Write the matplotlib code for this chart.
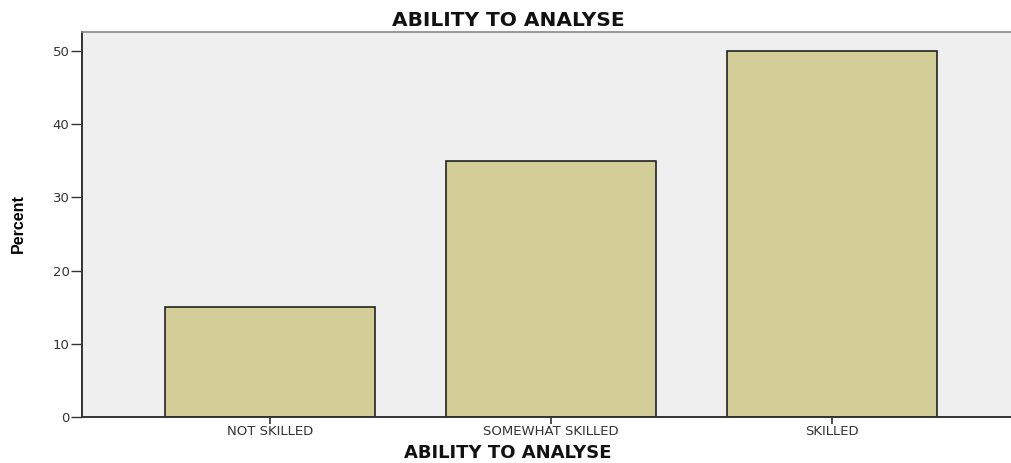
import matplotlib
matplotlib.use("Agg")
import matplotlib.pyplot as plt

# ── Daten ─────────────────────────────────────────────────────────────────────
categories = ["NOT SKILLED", "SOMEWHAT SKILLED", "SKILLED"]
percent    = [15, 35, 50]
yticks     = [0, 10, 20, 30, 40, 50]

BG    = "#efefef"
BAR   = "#d3cd98"
EDGE  = "#222222"

plt.rcParams["font.family"] = ["DejaVu Sans"]

fig = plt.figure(figsize=(10.11, 4.63), dpi=100)
ax = fig.add_axes([82 / 1011, 1 - 417 / 463, (1011 - 82) / 1011, (417 - 32) / 463])
ax.set_facecolor(BG)

x = list(range(len(categories)))
ax.bar(x, percent, width=0.75, color=BAR, edgecolor=EDGE, linewidth=1.2, zorder=2)

ax.set_xlim(-0.669, 2.637)
ax.set_ylim(0, 52.6)
ax.set_yticks(yticks)
ax.set_xticks(x)
ax.set_xticklabels(categories, fontsize=9.5, color="#333333")
ax.tick_params(axis="y", labelsize=9.5, length=8, width=1, colors="#333333", pad=1)
ax.tick_params(axis="x", length=5, width=1.2, colors="#333333", pad=1)

for s in ("left", "bottom"):
    ax.spines[s].set_color("#333333"); ax.spines[s].set_linewidth(1.4)
ax.spines["top"].set_color("#888888"); ax.spines["top"].set_linewidth(1.2)
ax.spines["right"].set_visible(False)

fig.text(0.5025, 1 - 20 / 463, "ABILITY TO ANALYSE", ha="center", va="center",
         fontsize=14.5, fontweight="bold", color="#111111")
fig.text(0.5025, 1 - 453 / 463, "ABILITY TO ANALYSE", ha="center", va="center",
         fontsize=13, fontweight="bold", color="#111111")
fig.text(18 / 1011, 1 - 224 / 463, "Percent", ha="center", va="center", rotation=90,
         fontsize=11.5, fontweight="bold",
         family=["Liberation Sans Narrow", "Liberation Sans", "DejaVu Sans"])

fig.savefig("out.png", dpi=100, facecolor="white")
